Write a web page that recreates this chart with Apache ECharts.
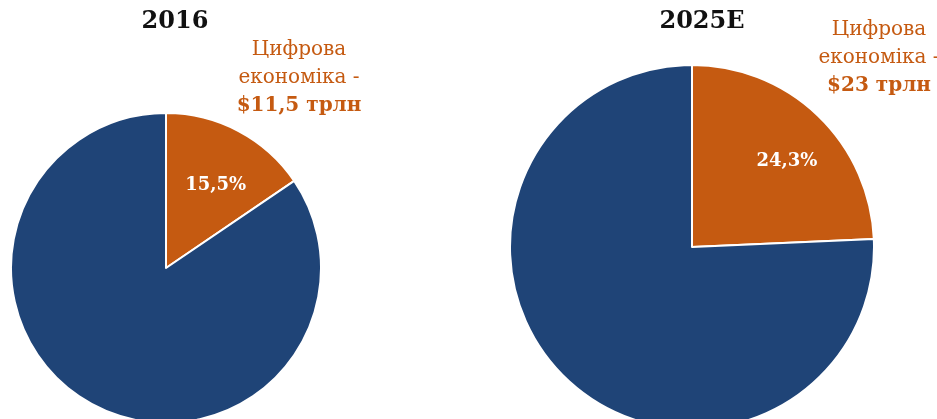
<!DOCTYPE html>
<html>
<head>
<meta charset="utf-8">
<script src="https://cdn.jsdelivr.net/npm/echarts@6/dist/echarts.min.js"></script>
<style>
  html, body { margin: 0; padding: 0; background: #fff; }
  #main { width: 937px; height: 419px; }
</style>
</head>
<body>
<div id="main"></div>
<script>
  // частки цифрової економіки, %
  const years = ['2016', '2025E'];
  const digitalShare = [15.5, 24.3];
  const otherShare = [84.5, 75.7];
  const digitalLabel = ['$11,5 трлн', '$23 трлн'];

  const serif = '"DejaVu Serif", "Liberation Serif", serif';
  const orange = '#C55A11';
  const blue = '#1F4477';

  const chart = echarts.init(document.getElementById('main'));

  const pies = [
    { center: [166, 268], radius: 155, offset: [12, -12] },
    { center: [692, 247], radius: 182, offset: [30, -18] }
  ];
  const titlePos = [170, 697];
  const notePos = [[294, 31], [874, 11]];

  const option = {
    animation: false,
    title: years.map((y, i) => ({
      text: y,
      left: titlePos[i],
      top: 5,
      textAlign: 'center',
      textStyle: { fontFamily: serif, fontWeight: 'bold', fontSize: 24, color: '#111' }
    })).concat(digitalLabel.map((t, i) => ({
      text: '{a|Цифрова}\n{a|економіка -}\n{b|' + t + '}',
      left: notePos[i][0],
      top: notePos[i][1],
      textAlign: 'center',
      textStyle: {
        rich: {
          a: { fontFamily: serif, fontSize: 20, fontWeight: 'normal', color: orange, lineHeight: 28, align: 'center' },
          b: { fontFamily: serif, fontSize: 20, fontWeight: 'bold', color: orange, lineHeight: 28, align: 'center' }
        }
      }
    }))),
    series: years.map((y, i) => ({
      type: 'pie',
      center: pies[i].center,
      radius: pies[i].radius,
      startAngle: 90,
      clockwise: true,
      silent: true,
      itemStyle: { borderColor: '#fff', borderWidth: 2 },
      label: { show: false },
      labelLine: { show: false },
      data: [
        {
          value: digitalShare[i],
          name: 'Цифрова економіка',
          itemStyle: { color: orange },
          label: {
            show: true,
            position: 'inside',
            offset: pies[i].offset,
            formatter: () => String(digitalShare[i]).replace('.', ',') + '%',
            fontFamily: serif,
            fontWeight: 'bold',
            fontSize: 18,
            color: '#fff'
          }
        },
        { value: otherShare[i], name: 'Інше', itemStyle: { color: blue } }
      ]
    }))
  };

  chart.setOption(option);
</script>
</body>
</html>
